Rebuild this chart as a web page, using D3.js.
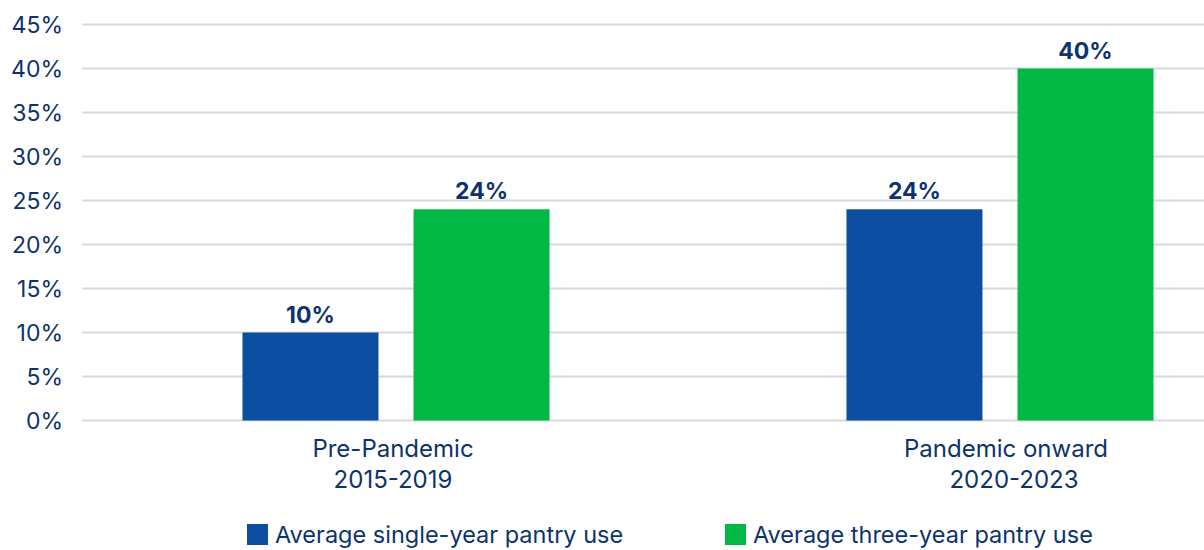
<!DOCTYPE html>
<html>
<head>
<meta charset="utf-8">
<script src="https://cdn.jsdelivr.net/npm/d3@7"></script>
<style>
  html, body { margin: 0; padding: 0; background: #fff; }
  svg { display: block; font-family: Inter, "Liberation Sans", sans-serif; }
</style>
</head>
<body>
<svg id="chart" width="1204" height="550"></svg>
<script>
// Pantry use by period
const categories = ["Pre-Pandemic\n2015-2019", "Pandemic onward\n2020-2023"];
const seriesNames = ["Average single-year pantry use", "Average three-year pantry use"];
const singleYear = [10, 24];
const threeYear = [24, 40];
const yTicks = [0, 5, 10, 15, 20, 25, 30, 35, 40, 45];

const colors = ["#0b4ea2", "#00b843"];
const textColor = "#0c336e";

const svg = d3.select("#chart");

const plotLeft = 82, plotRight = 1204;
const y = d3.scaleLinear().domain([0, 45]).range([420.5, 24.5]);

const x0 = d3.scaleBand().domain(categories).range([94, 1302]);
const x1 = d3.scaleBand().domain(seriesNames)
  .range([0, x0.bandwidth()]).paddingInner(0.205).paddingOuter(0.868);

// gridlines
svg.append("g").selectAll("line").data(yTicks).join("line")
  .attr("x1", plotLeft).attr("x2", plotRight)
  .attr("y1", d => y(d)).attr("y2", d => y(d))
  .attr("stroke", "#d9d9d9").attr("stroke-width", 2);

// y axis labels
const yAxis = d3.axisLeft(y).tickValues(yTicks).tickFormat(d => d + "%").tickSize(0).tickPadding(0);
const yg = svg.append("g").attr("transform", "translate(63,0)").call(yAxis);
yg.select(".domain").remove();
yg.selectAll("text").attr("font-size", 23).attr("fill", textColor)
  .attr("font-family", "Inter, 'Liberation Sans', sans-serif").attr("dy", "0.36em");

const rows = categories.map((c, i) => ({
  cat: c,
  vals: [ {s: seriesNames[0], v: singleYear[i]}, {s: seriesNames[1], v: threeYear[i]} ]
}));

const groups = svg.append("g").selectAll("g").data(rows).join("g")
  .attr("transform", d => `translate(${x0(d.cat)},0)`);

groups.selectAll("rect").data(d => d.vals).join("rect")
  .attr("x", d => x1(d.s)).attr("width", x1.bandwidth())
  .attr("y", d => y(d.v)).attr("height", d => y(0) - y(d.v))
  .attr("fill", (d, i) => colors[i]);

groups.selectAll("text.val").data(d => d.vals).join("text")
  .attr("class", "val")
  .attr("x", d => x1(d.s) + x1.bandwidth() / 2)
  .attr("y", d => y(d.v) - 10)
  .attr("text-anchor", "middle")
  .attr("font-size", 23).attr("font-weight", 700).attr("fill", textColor)
  .text(d => d.v + "%");

// category labels (second group's lines sit slightly right of the bar centre)
const lineShift = [[-3, -3], [6, 14]];
const catLabels = svg.append("g").selectAll("text").data(categories).join("text")
  .attr("text-anchor", "middle")
  .attr("font-size", 24).attr("fill", textColor)
  .attr("transform", d => `translate(${x0(d) + x0.bandwidth() / 2},0)`);
catLabels.selectAll("tspan").data((d, ci) => d.split("\n").map((t, li) => ({t, dx: lineShift[ci][li]}))).join("tspan")
  .attr("x", d => d.dx).attr("y", (d, i) => 457 + i * 31)
  .text(d => d.t);

// legend
const legendX = [247, 725];
const legend = svg.append("g").selectAll("g").data(seriesNames).join("g")
  .attr("transform", (d, i) => `translate(${legendX[i]},524)`);
legend.append("rect").attr("width", 21).attr("height", 21).attr("fill", (d, i) => colors[i]);
legend.append("text").attr("x", 28).attr("y", 19)
  .attr("font-size", 23.5).attr("fill", textColor).text(d => d);
</script>
</body>
</html>
